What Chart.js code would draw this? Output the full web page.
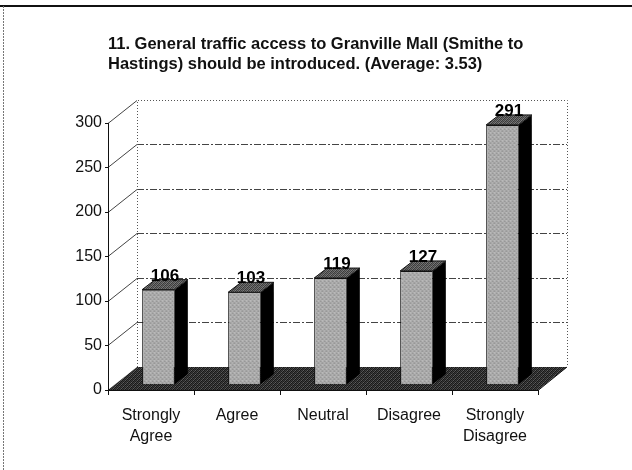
<!DOCTYPE html>
<html>
<head>
<meta charset="utf-8">
<script src="https://cdn.jsdelivr.net/npm/chart.js@4/dist/chart.umd.min.js"></script>
<style>
  html, body { margin: 0; padding: 0; background: #fff; }
  #wrap { width: 632px; height: 470px; }
</style>
</head>
<body>
<div id="wrap"><canvas id="survey-chart" width="632" height="470"></canvas></div>
<script>
// --- Datos del gráfico ---
const titleLines = [
    '11. General traffic access to Granville Mall (Smithe to',
    'Hastings) should be introduced. (Average: 3.53)'
];
const categories = [['Strongly', 'Agree'], 'Agree', 'Neutral', 'Disagree', ['Strongly', 'Disagree']];
const counts = [106, 103, 119, 127, 291];
const yMax = 300;
const yStep = 50;

// --- Geometría del efecto 3D (pixeles) ---
const WALL_DX = 29, WALL_DY = -23;   // desplazamiento de la pared del fondo
const BAR_OX = 7.5, BAR_OY = -6;     // posición de la cara frontal de la barra
const BAR_DX = 13, BAR_DY = -10;     // profundidad de la barra

const FONT = "'Liberation Sans', Arial, sans-serif";

/**
 * Crea un patrón punteado (tipo impresión en gris) a partir de una matriz 4x4.
 */
function makePattern(matrix) {
    const c = document.createElement('canvas');
    c.width = 4; c.height = 4;
    const g = c.getContext('2d');
    const img = g.createImageData(4, 4);
    for (let r = 0; r < 4; r++) {
        for (let k = 0; k < 4; k++) {
            const v = matrix[r][k];
            const i = (r * 4 + k) * 4;
            img.data[i] = v; img.data[i + 1] = v; img.data[i + 2] = v; img.data[i + 3] = 255;
        }
    }
    g.putImageData(img, 0, 0);
    return g.createPattern(c, 'repeat');
}

const frontFill = makePattern([[150, 205, 130, 190], [215, 140, 185, 120], [135, 195, 155, 215], [185, 120, 205, 160]]);
const topFill = makePattern([[70, 120, 60, 105], [115, 55, 95, 65], [60, 110, 75, 125], [100, 65, 120, 55]]);
const floorFill = makePattern([[35, 90, 25, 60], [70, 20, 55, 30], [25, 65, 35, 95], [55, 30, 80, 20]]);

function poly(ctx, pts, fill) {
    ctx.beginPath();
    ctx.moveTo(pts[0][0], pts[0][1]);
    for (let i = 1; i < pts.length; i++) ctx.lineTo(pts[i][0], pts[i][1]);
    ctx.closePath();
    ctx.fillStyle = fill;
    ctx.fill();
}

// Plugin que dibuja el marco, las paredes, el piso y las caras 3D de las barras
const threeDPlugin = {
    id: 'threeD',
    beforeDraw(chart) {
        const ctx = chart.ctx;
        ctx.save();
        // marco de la página
        ctx.fillStyle = '#fff';
        ctx.fillRect(0, 0, chart.width, chart.height);
        ctx.strokeStyle = '#111';
        ctx.lineWidth = 2;
        ctx.beginPath(); ctx.moveTo(0, 6); ctx.lineTo(chart.width, 6); ctx.stroke();
        ctx.strokeStyle = '#777';
        ctx.lineWidth = 1;
        ctx.setLineDash([2, 1]);
        ctx.beginPath(); ctx.moveTo(3.5, 6); ctx.lineTo(3.5, chart.height); ctx.stroke();
        ctx.restore();
    },
    beforeDatasetsDraw(chart) {
        const ctx = chart.ctx;
        const { left: L, right: R, top: T, bottom: B } = chart.chartArea;
        const y = chart.scales.y;
        ctx.save();

        // piso
        poly(ctx, [[L, B], [R, B], [R + WALL_DX, B + WALL_DY], [L + WALL_DX, B + WALL_DY]], floorFill);

        // líneas de cuadrícula en la pared del fondo y diagonales en la pared izquierda
        ctx.lineWidth = 1;
        ctx.strokeStyle = '#444';
        for (let v = yStep; v <= yMax; v += yStep) {
            const py = Math.round(y.getPixelForValue(v)) + 0.5;
            if (v < yMax) {
                ctx.setLineDash([7, 2, 2, 2]);
                ctx.beginPath();
                ctx.moveTo(L + WALL_DX, py + WALL_DY);
                ctx.lineTo(R + WALL_DX, py + WALL_DY);
                ctx.stroke();
            }
            ctx.setLineDash([]);
            ctx.beginPath();
            ctx.moveTo(L, py);
            ctx.lineTo(L + WALL_DX, py + WALL_DY);
            ctx.stroke();
        }

        // bordes punteados de la pared del fondo
        ctx.strokeStyle = '#555';
        ctx.setLineDash([1, 2]);
        const bt = Math.round(T + WALL_DY) + 0.5;
        ctx.beginPath();
        ctx.moveTo(L + WALL_DX + 0.5, B + WALL_DY);
        ctx.lineTo(L + WALL_DX + 0.5, bt);
        ctx.lineTo(R + WALL_DX + 0.5, bt);
        ctx.lineTo(R + WALL_DX + 0.5, B + WALL_DY);
        ctx.stroke();

        // eje frontal y borde del piso
        ctx.setLineDash([]);
        ctx.strokeStyle = '#111';
        ctx.beginPath();
        ctx.moveTo(L + 0.5, T);
        ctx.lineTo(L + 0.5, B + 0.5);
        ctx.lineTo(R, B + 0.5);
        ctx.lineTo(R + WALL_DX, B + WALL_DY);
        ctx.stroke();
        for (let v = 0; v <= yMax; v += yStep) {
            const py = Math.round(y.getPixelForValue(v)) + 0.5;
            ctx.beginPath(); ctx.moveTo(L - 3, py); ctx.lineTo(L, py); ctx.stroke();
        }
        const step = (R - L) / categories.length;
        for (let i = 0; i <= categories.length; i++) {
            const px = Math.round(L + i * step) + 0.5;
            ctx.beginPath(); ctx.moveTo(px, B); ctx.lineTo(px, B + 5); ctx.stroke();
        }

        // caras laterales y superiores de las barras
        chart.getDatasetMeta(0).data.forEach(bar => {
            const hw = bar.width / 2;
            const x0 = bar.x - hw + BAR_OX, x1 = bar.x + hw + BAR_OX;
            const yt = bar.y + BAR_OY, yb = bar.base + BAR_OY;
            poly(ctx, [[x1, yt], [x1 + BAR_DX, yt + BAR_DY], [x1 + BAR_DX, yb + BAR_DY], [x1, yb]], '#000');
            poly(ctx, [[x0, yt], [x0 + BAR_DX, yt + BAR_DY], [x1 + BAR_DX, yt + BAR_DY], [x1, yt]], topFill);
            ctx.strokeStyle = '#111';
            ctx.stroke();
        });
        ctx.restore();

        // la cara frontal la dibuja Chart.js, desplazada hacia el fondo
        ctx.save();
        ctx.translate(BAR_OX, BAR_OY);
    },
    afterDatasetsDraw(chart) {
        const ctx = chart.ctx;
        ctx.restore();
        ctx.save();
        ctx.fillStyle = '#000';
        ctx.font = 'bold 17px ' + FONT;
        ctx.textAlign = 'center';
        ctx.textBaseline = 'bottom';
        chart.getDatasetMeta(0).data.forEach((bar, i) => {
            ctx.fillText(String(counts[i]), bar.x + BAR_OX + BAR_DX / 2, bar.y + BAR_OY + BAR_DY + 5);
        });
        ctx.restore();
    }
};

document.addEventListener('DOMContentLoaded', () => {
    const ctx = document.getElementById('survey-chart');
    new Chart(ctx, {
        type: 'bar',
        data: {
            labels: categories,
            datasets: [{
                data: counts,
                backgroundColor: frontFill,
                borderColor: '#111',
                borderWidth: 1,
                barPercentage: 0.38,
                categoryPercentage: 1
            }]
        },
        options: {
            responsive: false,
            animation: false,
            layout: { padding: { left: 0, right: 94, top: 0, bottom: 0 } },
            plugins: {
                legend: { display: false },
                tooltip: { enabled: false },
                title: {
                    display: true,
                    text: titleLines,
                    align: 'start',
                    fullSize: false,
                    color: '#111',
                    font: { family: FONT, size: 16.5, weight: 'bold', lineHeight: 1.27 },
                    padding: { top: 33.5, bottom: 47.5 }
                }
            },
            scales: {
                x: {
                    grid: { display: false },
                    border: { display: false },
                    ticks: {
                        color: '#111',
                        font: { family: FONT, size: 16, lineHeight: 1.31 },
                        padding: 7.5,
                        maxRotation: 0,
                        autoSkip: false
                    },
                    afterFit(scale) { scale.height = 80; }
                },
                y: {
                    min: 0,
                    max: yMax,
                    grid: { display: false, drawTicks: false },
                    border: { display: false },
                    ticks: {
                        stepSize: yStep,
                        color: '#111',
                        font: { family: FONT, size: 16 },
                        padding: 6
                    },
                    afterFit(scale) { scale.width = 108; }
                }
            }
        },
        plugins: [threeDPlugin]
    });
});
</script>
</body>
</html>
